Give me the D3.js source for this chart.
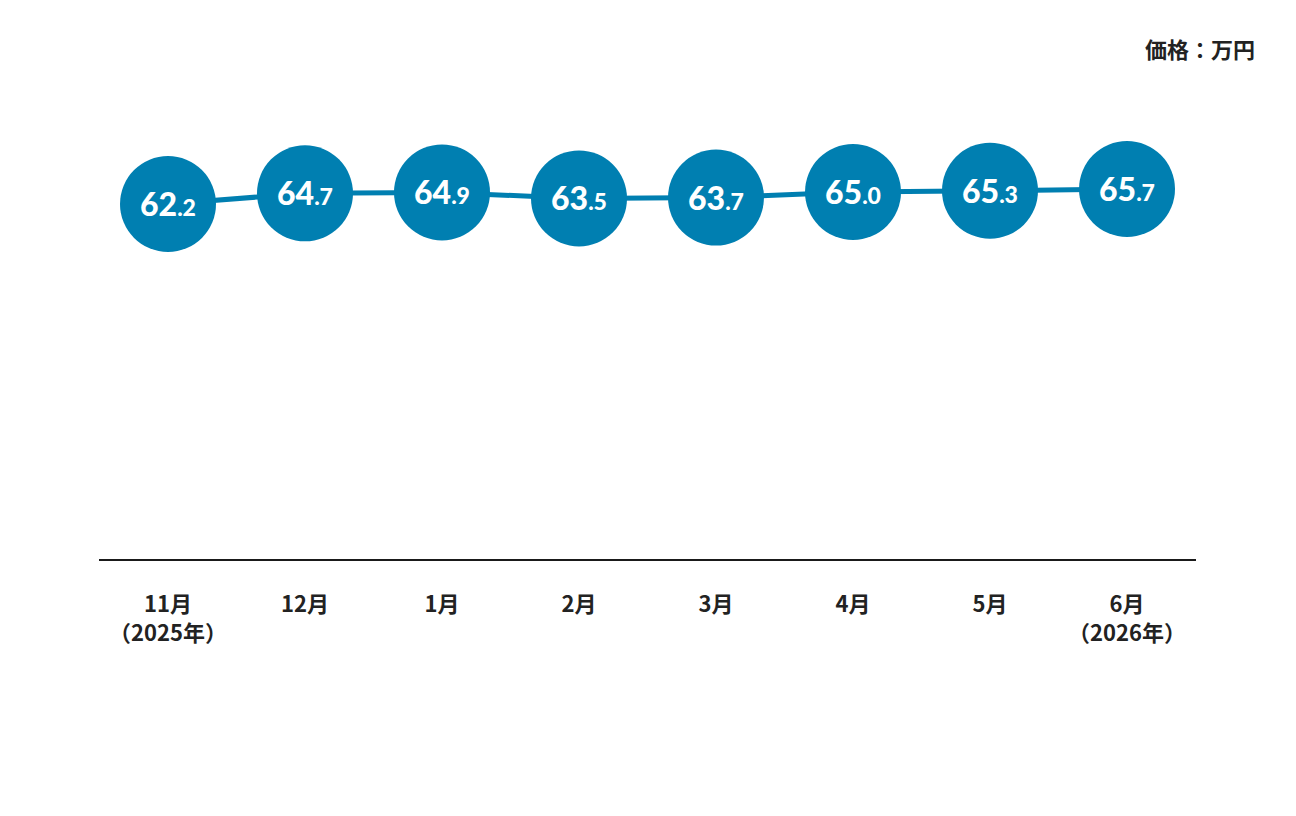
<!DOCTYPE html>
<html><head><meta charset="utf-8">
<script src="https://cdn.jsdelivr.net/npm/d3@7"></script>
<style>body{margin:0;background:#fff;}svg{display:block;}</style>
</head><body>
<svg id="c" width="1296" height="816"></svg>
<script>
const months = ["11月","12月","1月","2月","3月","4月","5月","6月"];
const years = ["（2025年）","","","","","","","（2026年）"];
const prices = [62.2, 64.7, 64.9, 63.5, 63.7, 65.0, 65.3, 65.7];
const unitLabel = "価格：万円";

const svg = d3.select("#c");
const blue = "#007fb1";
const x = d3.scalePoint().domain(months).range([168, 1127]);
const y = d3.scaleLinear().domain([62.2, 65.7]).range([204, 189]);

svg.append("line").attr("x1",99).attr("x2",1196).attr("y1",560).attr("y2",560)
  .attr("stroke","#1a1a1a").attr("stroke-width",2);

const line = d3.line().x((d,i)=>x(months[i])).y(d=>y(d));
svg.append("path").datum(prices).attr("d", line).attr("fill","none")
  .attr("stroke", blue).attr("stroke-width",5);

const g = svg.selectAll("g.pt").data(prices).enter().append("g")
  .attr("transform",(d,i)=>`translate(${x(months[i])},${y(d)})`);
g.append("circle").attr("r",48).attr("fill",blue);
const t = g.append("text").attr("text-anchor","middle").attr("y",12)
  .attr("fill","#fff").attr("font-family","Lato, sans-serif").attr("font-weight",900);
t.append("tspan").attr("font-size",32).text(d=>Math.floor(d));
t.append("tspan").attr("font-size",23).text(d=>"."+d.toFixed(1).split(".")[1]);

svg.selectAll("text.m").data(months).enter().append("text")
  .attr("class","m").attr("x",d=>x(d)).attr("y",612).attr("text-anchor","middle")
  .attr("font-family","'Noto Sans CJK JP', sans-serif").attr("font-weight",700)
  .attr("font-size",22).attr("fill","#222").text(d=>d);
svg.selectAll("text.yr").data(years).enter().append("text")
  .attr("class","yr").attr("x",(d,i)=>x(months[i])).attr("y",641).attr("text-anchor","middle")
  .attr("font-family","'Noto Sans CJK JP', sans-serif").attr("font-weight",700)
  .attr("font-size",22).attr("fill","#222").text(d=>d);

svg.append("text").attr("x",1255).attr("y",58).attr("text-anchor","end")
  .attr("font-family","'Noto Sans CJK JP', sans-serif").attr("font-weight",700)
  .attr("font-size",22).attr("fill","#222").text(unitLabel);
</script>
</body></html>
